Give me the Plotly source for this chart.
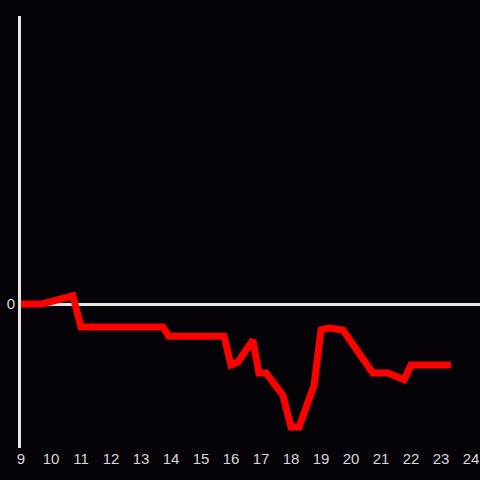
import plotly.graph_objects as go

hours = [9.0, 9.7, 10.73, 11.0, 13.73, 13.93, 15.77, 16.0, 16.23, 16.73, 16.93, 17.17,
         17.73, 18.0, 18.27, 18.77, 19.0, 19.27, 19.73, 20.73, 21.23, 21.77, 22.0, 23.33]
values = [0.0, 0.0, 0.17, -0.48, -0.48, -0.67, -0.67, -1.27, -1.21, -0.75, -1.44, -1.44,
          -1.9, -2.56, -2.56, -1.69, -0.54, -0.5, -0.54, -1.44, -1.44, -1.58, -1.27, -1.27]
x_ticks = list(range(9, 25))

fig = go.Figure()
fig.add_trace(go.Scatter(x=hours, y=values, mode="lines",
                         line=dict(color="#ff0000", width=7), hoverinfo="skip"))

fig.update_layout(
    width=480, height=480,
    paper_bgcolor="#050307", plot_bgcolor="#050307",
    margin=dict(l=21, r=0, t=16, b=32),
    showlegend=False,
    font=dict(family="Liberation Sans, Arial, sans-serif", size=15, color="#d8d8d8"),
    xaxis=dict(range=[9, 24.3], tickvals=x_ticks, ticktext=[str(t) for t in x_ticks],
               showgrid=False, zeroline=False, showline=False, ticks="",
               tickfont=dict(size=15, color="#d8d8d8"), fixedrange=True),
    yaxis=dict(range=[-3, 6], tickvals=[0], ticktext=["0"], showgrid=False,
               zeroline=True, zerolinecolor="#e6e6e6", zerolinewidth=3,
               showline=True, linecolor="#e6e6e6", linewidth=3, ticks="",
               tickfont=dict(size=15, color="#d8d8d8"), fixedrange=True),
)

fig.write_html("out.html", config={"displayModeBar": False},
               post_script="document.body.style.margin='0';document.body.style.background='#050307';")
